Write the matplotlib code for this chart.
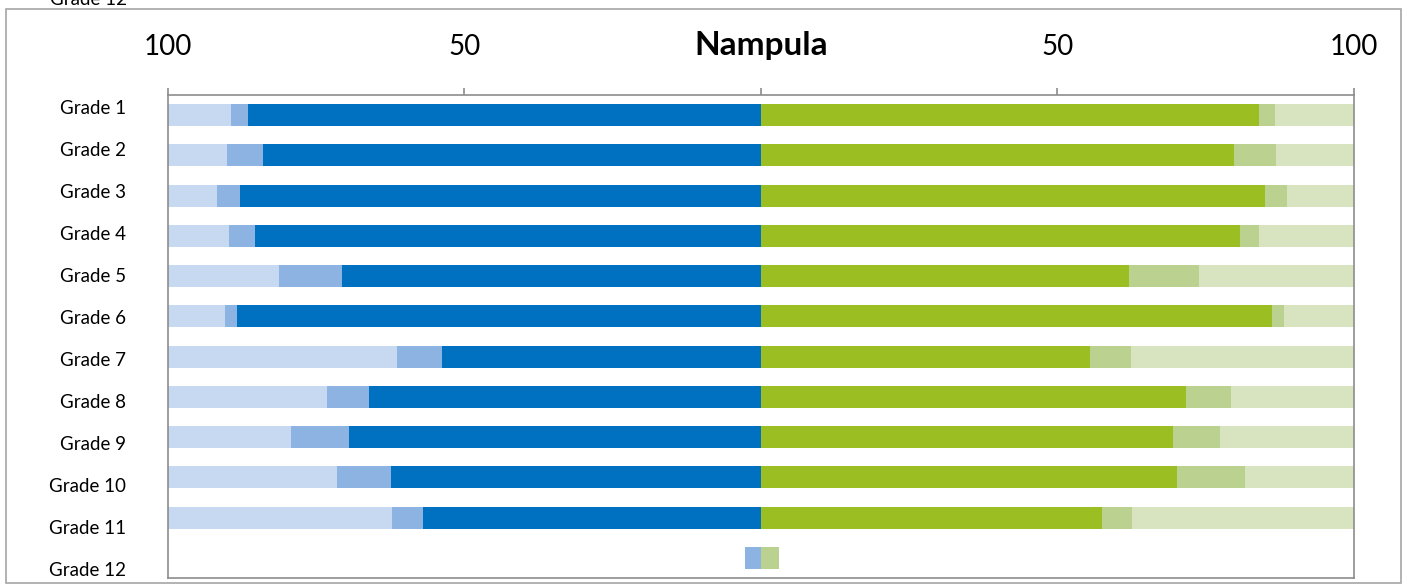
import matplotlib
matplotlib.use("Agg")
import matplotlib.pyplot as plt
from matplotlib.patches import Rectangle

plt.rcParams['font.family'] = ['Lato', 'DejaVu Sans']

grades = ["Grade %d" % i for i in range(1, 13)]

# left side (blue): share in each band, drawn from the centre outwards
blue_dark = [86.5, 84.0, 87.9, 85.3, 70.7, 88.4, 53.7, 66.1, 69.4, 62.4, 57.0, 0.0]
blue_mid = [2.9, 6.1, 3.8, 4.4, 10.6, 1.9, 7.6, 7.1, 9.9, 9.1, 5.2, 2.7]
blue_light = [10.6, 9.9, 8.3, 10.3, 18.7, 9.7, 38.7, 26.8, 20.7, 28.5, 37.8, 0.0]

# right side (green)
green_dark = [84.0, 79.9, 85.0, 80.8, 62.1, 86.3, 55.6, 71.8, 69.6, 70.2, 57.5, 0.0]
green_mid = [2.7, 7.1, 3.8, 3.2, 11.9, 2.0, 6.9, 7.6, 7.8, 11.5, 5.1, 3.0]
green_light = [13.3, 13.0, 11.2, 16.0, 26.0, 11.7, 37.5, 20.6, 22.6, 18.3, 37.4, 0.0]

tick_vals = [-100, -50, 0, 50, 100]
tick_text = ["100", "50", "Nampula", "50", "100"]

fig = plt.figure(figsize=(14.03, 5.84), dpi=100)
ax = fig.add_axes([168 / 1403, 6 / 584, (1353.5 - 168) / 1403, (578 - 95) / 584])

y = range(len(grades))
h = 0.55

# blue bars grow to the left
left = [0.0] * len(grades)
for vals, col in [(blue_dark, "#0070C0"), (blue_mid, "#8DB3E2"), (blue_light, "#C6D9F1")]:
    ax.barh(y, [-v for v in vals], left=[-l for l in left], height=h, color=col)
    left = [a + b for a, b in zip(left, vals)]

# green bars grow to the right
right = [0.0] * len(grades)
for vals, col in [(green_dark, "#9BBF22"), (green_mid, "#BBD18F"), (green_light, "#D8E4BF")]:
    ax.barh(y, vals, left=right, height=h, color=col)
    right = [a + b for a, b in zip(right, vals)]

ax.set_xlim(-100, 100)
ax.set_ylim(len(grades) - 0.5, -0.5)

ax.xaxis.tick_top()
ax.set_xticks(tick_vals)
ax.set_xticklabels(tick_text)
ax.tick_params(axis="x", direction="out", length=5, width=1.2, color="#8c8c8c",
               labelsize=20, pad=20)
ax.get_xticklabels()[2].set_fontweight("bold")
ax.get_xticklabels()[2].set_fontsize(24)

# category labels sit on a slightly wider spacing than the bars
k, c = 1.0426, 4.72
lab = ax.secondary_yaxis("left", functions=(lambda p: (p - c) / k + c,
                                            lambda s: c + k * (s - c)))
lab.set_yticks(list(y))
lab.set_yticklabels(grades)
lab.tick_params(length=0, labelsize=13.5, pad=30)
lab.spines["left"].set_visible(False)
ax.set_yticks([])

for s in ax.spines.values():
    s.set_color("#8c8c8c")
    s.set_linewidth(1.2)

# outer chart frame
fig.patches.append(Rectangle((6 / 1403, 1 / 584), 1395 / 1403, 574 / 584,
                             transform=fig.transFigure, fill=False,
                             edgecolor="#a6a6a6", linewidth=1.2))

# last label of the chart above, cut at the top edge
fig.text(127 / 1403, 1 - 5 / 584, "Grade 12", ha="right", va="baseline", fontsize=13.5)

fig.savefig("out.png", dpi=100)
